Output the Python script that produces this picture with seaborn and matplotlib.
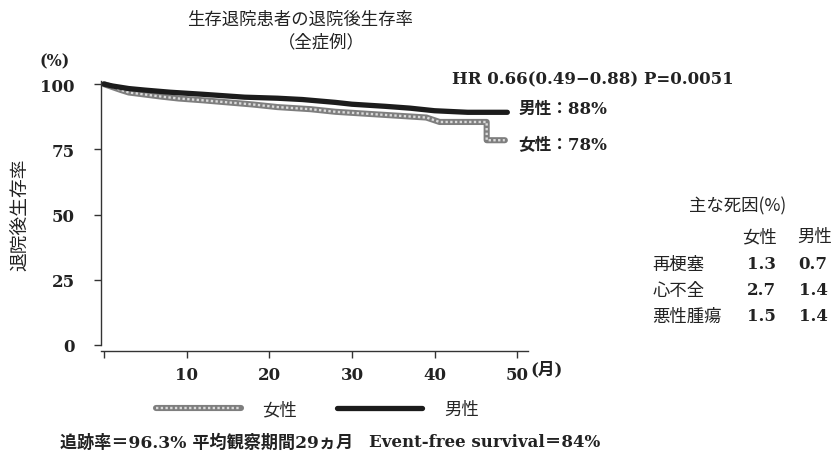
import numpy as np
import pandas as pd
import matplotlib
matplotlib.use("Agg")
import matplotlib.pyplot as plt
from matplotlib.legend_handler import HandlerTuple
import seaborn as sns

# survival curves (month, %)
male_months = [0, 1, 2, 3, 5, 8, 12, 17, 21, 24, 28, 30, 34, 37, 40, 42, 44, 48.8]
male_surv = [100, 99.3, 98.8, 98.3, 97.7, 96.9, 96.1, 95.0, 94.6, 94.1, 93.0, 92.3, 91.5, 90.8, 89.8, 89.5, 89.2, 89.2]
female_months = [0, 1, 2, 3, 5, 7, 9, 12, 15, 18, 21, 25, 28, 32, 36, 39, 40.6, 46.3, 46.3, 48.5]
female_surv = [100, 98.9, 97.8, 96.8, 96.0, 95.2, 94.5, 93.8, 93.0, 92.2, 91.2, 90.4, 89.4, 88.6, 87.8, 87.2, 85.5, 85.5, 78.5, 78.5]

y_ticks = [0, 25, 50, 75, 100]
x_ticks = [0, 10, 20, 30, 40, 50]
x_ticklabels = ["", "10", "20", "30", "40", "50"]

causes = ["再梗塞", "心不全", "悪性腫瘍"]
cause_female = ["1.3", "2.7", "1.5"]
cause_male = ["0.7", "1.4", "1.4"]

df = pd.concat([
    pd.DataFrame({"month": male_months, "surv": male_surv, "sex": "男性"}),
    pd.DataFrame({"month": female_months, "surv": female_surv, "sex": "女性"}),
])

sns.set_style("ticks")
plt.rcParams["font.family"] = ["DejaVu Serif", "Noto Sans CJK JP", "DejaVu Sans"]
jp = ["Noto Sans CJK JP", "DejaVu Sans"]
ink = "#222222"

fig = plt.figure(figsize=(8.34, 4.6), dpi=100)
ax = fig.add_axes([101 / 834, 1 - 352 / 460, 427 / 834, 270 / 460])

fem = df[df.sex == "女性"]
mal = df[df.sex == "男性"]
sns.lineplot(data=fem, x="month", y="surv", ax=ax, color="#7e7e7e", lw=4.4,
             estimator=None, sort=False)
sns.lineplot(data=fem, x="month", y="surv", ax=ax, color="#dadada", lw=1.7,
             ls=(0, (1, 1)), estimator=None, sort=False)
sns.lineplot(data=mal, x="month", y="surv", ax=ax, color="#1c1c1c", lw=3.8,
             estimator=None, sort=False)
h_f1, h_f2, h_m = ax.get_lines()[:3]

ax.set_xlim(-0.36, 51.3)
ax.set_ylim(-2.3, 101.2)
ax.set_yticks(y_ticks)
ax.set_xticks(x_ticks)
ax.set_xticklabels(x_ticklabels)
ax.spines[["top", "right"]].set_visible(False)
ax.spines["left"].set_bounds(0, 101.2)
for s in ["left", "bottom"]:
    ax.spines[s].set_color("#333333")
    ax.spines[s].set_linewidth(1.0)
ax.tick_params(axis="both", length=5, width=1, color="#333333",
               labelsize=12, labelcolor=ink, pad=6)
for t in ax.get_xticklabels() + ax.get_yticklabels():
    t.set_fontweight("bold")
ax.tick_params(axis="y", pad=14)
ax.set_xlabel("")
ax.set_ylabel("")

fig.text(0.025, 0.533, "退院後生存率", rotation=90, ha="center", va="center",
         fontsize=13.5, family=jp, color=ink)
fig.text(0.36, 0.958, "生存退院患者の退院後生存率", ha="center", va="center",
         fontsize=12.5, family=jp, color=ink)
fig.text(0.385, 0.909, "（全症例）", ha="center", va="center",
         fontsize=12.5, family=jp, color=ink)
fig.text(0.047, 0.866, "(%)", ha="left", va="center", fontsize=11.5,
         fontweight="bold", color=ink)
fig.text(0.636, 0.195, "(月)", ha="left", va="center", fontsize=12,
         fontweight="bold", color=ink)

fig.text(0.542, 0.826, "HR 0.66(0.49−0.88) P=0.0051", ha="left", va="center",
         fontsize=12, fontweight="bold", color=ink)
fig.text(0.622, 0.762, "男性：88%", ha="left", va="center", fontsize=12,
         fontweight="bold", color=ink)
fig.text(0.622, 0.683, "女性：78%", ha="left", va="center", fontsize=12,
         fontweight="bold", color=ink)

fig.text(0.884, 0.552, "主な死因(%)", ha="center", va="center", fontsize=12.5,
         family=jp, color=ink)
fig.text(0.911, 0.484, "女性", ha="center", va="center", fontsize=12.5, family=jp, color=ink)
fig.text(0.977, 0.484, "男性", ha="center", va="center", fontsize=12.5, family=jp, color=ink)
for i, (c, f, m) in enumerate(zip(causes, cause_female, cause_male)):
    yy = 0.424 - i * 0.056
    fig.text(0.782, yy, c, ha="left", va="center", fontsize=12.5, family=jp, color=ink)
    fig.text(0.913, yy, f, ha="center", va="center", fontsize=12, fontweight="bold", color=ink)
    fig.text(0.975, yy, m, ha="center", va="center", fontsize=12, fontweight="bold", color=ink)

fig.legend([(h_f1, h_f2), h_m], ["女性", "男性"], ncol=2, frameon=False,
           loc="center left", bbox_to_anchor=(0.168, 0.108),
           handler_map={tuple: HandlerTuple(ndivide=1, pad=0)},
           handlelength=4.9, handletextpad=1.25, columnspacing=2.3,
           prop={"family": jp, "size": 12.5})

fig.text(0.072, 0.037, "追跡率＝96.3% 平均観察期間29ヵ月", ha="left", va="center",
         fontsize=12.3, fontweight="bold", color=ink)
fig.text(0.443, 0.037, "Event-free survival＝84%", ha="left", va="center",
         fontsize=12, fontweight="bold", color=ink)

fig.savefig("out.png", dpi=100)
